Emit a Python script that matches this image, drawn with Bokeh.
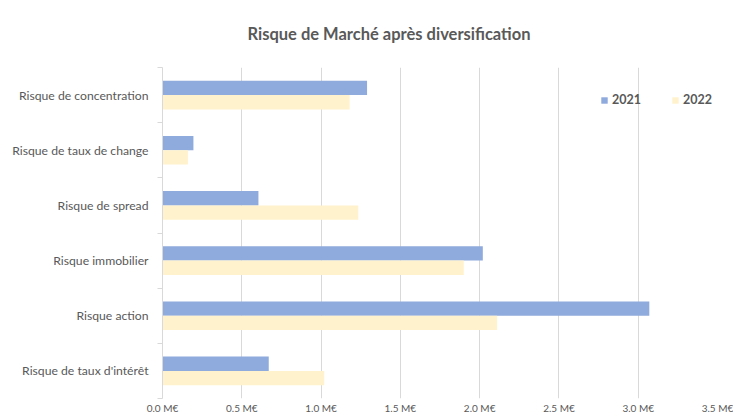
from bokeh.plotting import figure
from bokeh.models import (ColumnDataSource, FixedTicker, PrintfTickFormatter,
                          Legend, LegendItem, Range1d, Title)
from bokeh.embed import file_html
from bokeh.resources import INLINE

# ---- data (top to bottom as displayed) ----
categories = ["Risque de concentration", "Risque de taux de change", "Risque de spread",
              "Risque immobilier", "Risque action", "Risque de taux d'intérêt"]
values_2021 = [1.29, 0.195, 0.605, 2.02, 3.07, 0.67]
values_2022 = [1.18, 0.16, 1.235, 1.90, 2.11, 1.02]
series = ["2021", "2022"]
x_ticks = [0.0, 0.5, 1.0, 1.5, 2.0, 2.5, 3.0, 3.5]
chart_title = "Risque de Marché après diversification"

TEXT = "#595959"
GRID = "#d9d9d9"
C2021 = "#8FAADC"
C2022 = "#FFF2CC"
FONT = "Lato"

n = len(categories)
pos = [n - i - 0.5 for i in range(n)]
bar_h = 0.26
src21 = ColumnDataSource(dict(y=[p_ + bar_h / 2 for p_ in pos], v=values_2021))
src22 = ColumnDataSource(dict(y=[p_ - bar_h / 2 for p_ in pos], v=values_2022))

W, H = 733, 416
BL, BR, BT, BB = 162, 16, 67, 17
p = figure(width=W, height=H, output_backend="svg", toolbar_location=None,
           x_range=Range1d(0, 3.5), y_range=Range1d(0, n),
           min_border_left=BL, min_border_right=BR, min_border_top=BT,
           min_border_bottom=BB, title_location=None)
p.outline_line_color = None
p.background_fill_color = "white"

# title panel filling the top border, text aligned to its top
main_title = Title(text=chart_title, align="left", offset=85,
                   text_font=FONT, text_font_size="16.5px", text_font_style="bold",
                   text_color=TEXT, vertical_align="top", standoff=44)
p.add_layout(main_title, "above")

r21 = p.hbar(y="y", right="v", left=0, height=bar_h, source=src21,
             fill_color=C2021, line_color=None)
r22 = p.hbar(y="y", right="v", left=0, height=bar_h, source=src22,
             fill_color=C2022, line_color=None)

xa = p.below[0]
xa.ticker = FixedTicker(ticks=x_ticks)
xa.formatter = PrintfTickFormatter(format="%.1f M€")
xa.axis_line_color = None
xa.major_tick_line_color = None
xa.minor_tick_line_color = None
xa.major_tick_out = 0
xa.major_tick_in = 0
xa.major_label_text_color = TEXT
xa.major_label_text_font = FONT
xa.major_label_text_font_size = "10px"
xa.major_label_standoff = 3

ya = p.left[0]
ya.ticker = FixedTicker(ticks=pos, minor_ticks=list(range(n + 1)))
ya.major_label_overrides = {pp: c for pp, c in zip(pos, categories)}
ya.axis_line_color = GRID
ya.major_tick_line_color = None
ya.minor_tick_line_color = GRID
ya.minor_tick_out = 5
ya.minor_tick_in = 0
ya.major_label_text_color = TEXT
ya.major_label_text_font = FONT
ya.major_label_text_font_size = "12.2px"
ya.major_label_standoff = 8

p.xgrid.grid_line_color = GRID
p.xgrid.ticker = FixedTicker(ticks=x_ticks)
p.ygrid.grid_line_color = None

frame_h = H - BT - BB
legend = Legend(items=[LegendItem(label=series[0], renderers=[r21]),
                       LegendItem(label=series[1], renderers=[r22])],
                orientation="horizontal", location=(438, frame_h - 41),
                glyph_width=8, glyph_height=8, label_standoff=4, spacing=30,
                padding=0, margin=0, border_line_color=None,
                background_fill_alpha=0,
                label_text_font=FONT, label_text_font_size="12.5px",
                label_text_font_style="bold", label_text_color=TEXT,
                label_height=12)
p.add_layout(legend, "center")

open("out.html", "w").write(file_html(p, INLINE))
